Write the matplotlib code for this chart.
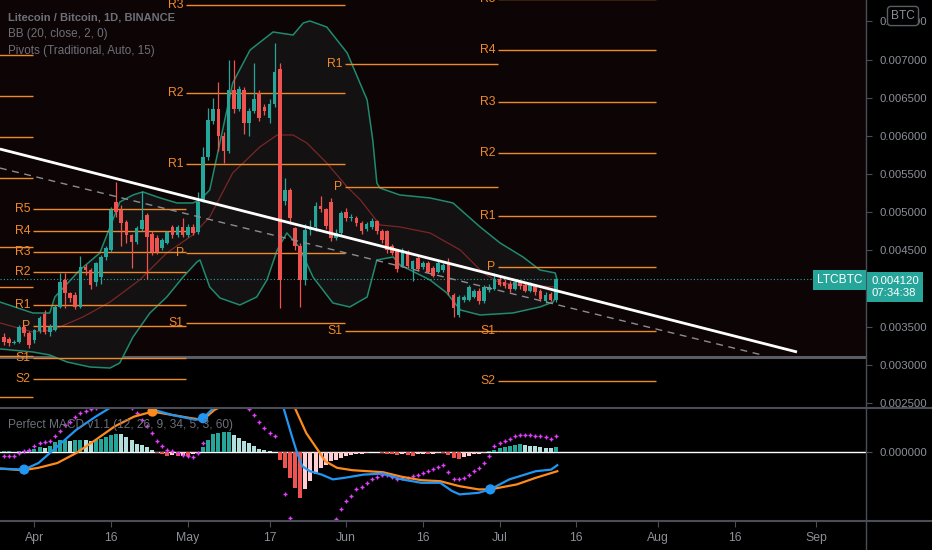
import numpy as np
import matplotlib
matplotlib.use('Agg')
import matplotlib.pyplot as plt
from matplotlib.lines import Line2D

# prices are in 1e-6 BTC, days counted from 1 Apr
days = list(range(-6, 103))

opens = [3365, 3340, 3290, 3300, 3490, 3420, 3320, 3440, 3660, 3430, 3460, 3760, 4110, 3940, 3910, 3760,
         4280, 4240, 4080, 4150, 4410, 4500, 5130, 5030, 4870, 4700, 4610, 4780, 4960, 4720, 4660, 4530,
         4600, 4800, 4700, 4800, 4700, 4810, 4740, 5160, 5720, 6200, 6350, 6000, 5800, 6600, 6350, 6600,
         6170, 6330, 6560, 6380, 6240, 6420, 6880, 5150, 5290, 4790, 4560, 4110, 4770, 4800, 5080, 5040,
         5140, 4660, 4730, 5000, 4920, 4930, 4860, 4780, 4800, 4880, 4760, 4760, 4560, 4490, 4300, 4480,
         4260, 4400, 4280, 4340, 4270, 4220, 4240, 4350, 3920, 3650, 3850, 3850, 3890, 3970, 3830, 3980,
         4000, 4120, 4090, 4060, 4000, 4080, 4050, 3970, 4030, 3970, 3840, 3930, 3850]
highs = [3415, 3370, 3330, 3520, 3520, 3440, 3470, 3640, 3720, 3530, 3790, 4200, 4200, 3960, 3950, 4420,
         4320, 4270, 4350, 4440, 4560, 5070, 5390, 5100, 4900, 4720, 4820, 5280, 4990, 4750, 4700, 4660,
         4760, 4830, 4830, 4920, 4850, 4840, 5260, 5850, 6360, 6500, 6700, 6050, 6990, 6990, 6650, 6640,
         6360, 6950, 6600, 6420, 6480, 7220, 6950, 5450, 5320, 4800, 4600, 4850, 4900, 5140, 5210, 5060,
         5180, 4780, 5010, 5060, 4970, 4950, 4880, 4870, 4920, 4900, 4780, 4770, 4580, 4510, 4530, 4500,
         4380, 4420, 4360, 4360, 4290, 4360, 4330, 4400, 3940, 3920, 3920, 4040, 4000, 4010, 4050, 4060,
         4200, 4170, 4120, 4100, 4110, 4100, 4080, 4080, 4060, 4000, 3950, 3960, 4140]
lows = [3260, 3250, 3270, 3280, 3380, 3220, 3290, 3420, 3410, 3380, 3440, 3740, 3750, 3820, 3730, 3740,
        4180, 3990, 4030, 4060, 4380, 4480, 4940, 4560, 4600, 4270, 4580, 4760, 4130, 4440, 4450, 4500,
        4580, 4660, 4680, 4680, 4680, 4700, 4720, 5130, 5690, 6150, 5800, 5640, 5780, 6300, 6320, 6030,
        6000, 6300, 6200, 6280, 6170, 6380, 3750, 5100, 4850, 4500, 3760, 4050, 4700, 4760, 5000, 4780,
        4620, 4640, 4700, 4880, 4880, 4820, 4720, 4760, 4780, 4720, 4600, 4460, 4440, 4220, 4280, 4270,
        4100, 4230, 4260, 4200, 4150, 4200, 4220, 3920, 3630, 3630, 3820, 3830, 3870, 3800, 3810, 3960,
        3980, 4030, 4010, 3960, 3980, 4000, 3950, 3950, 3920, 3830, 3810, 3830, 3820]
closes = [3300, 3285, 3300, 3495, 3420, 3260, 3450, 3620, 3430, 3500, 3760, 4090, 3940, 3880, 3760, 4280,
          4240, 4050, 4330, 4410, 4530, 5030, 5000, 4860, 4700, 4610, 4790, 4900, 4670, 4480, 4480, 4630,
          4740, 4700, 4800, 4700, 4810, 4730, 5130, 5720, 6210, 6350, 6000, 5800, 6600, 6350, 6620, 6170,
          6330, 6490, 6240, 6320, 6420, 6840, 4110, 5290, 4920, 4560, 4110, 4770, 4800, 5080, 5040, 4820,
          4660, 4730, 4990, 4920, 4930, 4860, 4760, 4840, 4880, 4750, 4630, 4500, 4470, 4260, 4500, 4300,
          4360, 4250, 4340, 4220, 4170, 4340, 4310, 3960, 3750, 3890, 3890, 4020, 3970, 3830, 4020, 4020,
          4120, 4050, 4030, 3990, 4080, 4030, 3970, 4040, 3950, 3860, 3920, 3850, 4120]

# Bollinger bands (day, price)
bb_upper_d = [-6.75, -0.3, 3.0, 4.0, 8.9, 12.8, 14.8, 16.7, 19.3, 21.2, 24.6, 27.9, 31.0, 32.4, 34.3, 38.8,
              42.2, 46.7, 50.6, 52.6, 53.9, 57.2, 61.2, 65.1, 66.2, 67.0, 67.6, 71.5, 77.4, 81.9, 87.2, 91.1,
              95.6, 98.9, 101.9, 102.3]
bb_upper_p = [3823, 3679, 3679, 3889, 4243, 4466, 4807, 5134, 5226, 5266, 5187, 5121, 5121, 5160, 5291, 6693,
              7126, 7362, 7322, 7480, 7506, 7427, 7087, 6471, 5946, 5383, 5317, 5226, 5187, 5121, 4807, 4597,
              4413, 4243, 4204, 4100]
bb_lower_d = [-6.75, -0.3, 3.0, 6.4, 10.9, 14.8, 16.7, 19.3, 22.6, 25.9, 29.1, 31.8, 32.4, 34.3, 36.3, 40.2,
              43.5, 45.5, 47.5, 49.4, 51.8, 54.5, 58.4, 61.7, 65.1, 67.0, 70.2, 71.5, 77.4, 80.7, 83.3, 87.2,
              93.6, 98.9, 101.5, 102.3]
bb_lower_p = [3208, 3168, 3129, 3037, 2971, 2958, 3024, 3365, 3679, 3889, 4151, 4348, 4374, 4020, 3876, 3784,
              3889, 4112, 4505, 4728, 4544, 4151, 3810, 3758, 3889, 4374, 4413, 4309, 4112, 3941, 3719, 3653,
              3679, 3758, 3823, 3941]
bb_basis_d = [-6.75, -0.3, 3.6, 9.5, 14.8, 20.6, 25.9, 31.0, 34.3, 38.8, 44.1, 47.5, 50.6, 53.3, 57.2, 61.2,
              63.8, 67.6, 71.5, 77.4, 83.3, 87.8, 91.1, 95.0, 102.3]
bb_basis_p = [3549, 3430, 3457, 3627, 3823, 4112, 4466, 4702, 4938, 5514, 5855, 6012, 6012, 5907, 5645, 5330,
              5160, 4833, 4807, 4728, 4505, 4204, 4073, 4046, 4020]

# monthly traditional pivots (start day, end day, levels)
pivots = [
    (-40, 0, [('R5', 7060), ('R4', 6523), ('R3', 5986), ('R2', 5448), ('R1', 4544), ('P', 4020),
              ('S1', 3115), ('S2', 2578)]),
    (0, 30, [('R5', 5040), ('R4', 4754), ('R3', 4478), ('R2', 4216), ('R1', 3784), ('P', 3509),
             ('S1', 3090), ('S2', 2814)]),
    (30, 61, [('R3', 7716), ('R2', 6562), ('R1', 5632), ('P', 4465), ('S1', 3548)]),
    (61, 91, [('R1', 6942), ('P', 5330), ('S1', 3443)]),
    (91, 122, [('R5', 7790), ('R4', 7126), ('R3', 6444), ('R2', 5775), ('R1', 4950), ('P', 4282),
               ('S1', 3443), ('S2', 2788)]),
]

trend_white = ([-6.75, 149.2], [5828, 3168])
trend_dashed = ([-6.75, 142.4], [5579, 3128])
last_price = 4120
box_floor = 3102

# Perfect MACD pane (same 1e-6 units)
hist = [3, 3, 2, 3, 4, 8, 15, 25, 20, 30, 50, 60, 60, 55, 58, 60, 58, 55, 58, 65, 75, 85, 92, 88, 75, 58, 42,
        35, 25, 12, -5, -12, -18, -15, -20, -18, -22, -12, -3, 25, 60, 90, 95, 99, 99, 85, 70, 55, 45, 30, 15,
        8, 3, -2, -40, -80, -130, -180, -232, -185, -145, -112, -80, -63, -47, -38, -30, -22, -14, -10, -8, -5,
        -2, 1, -3, -8, -12, -15, -12, -15, -18, -12, -10, -10, -8, -5, -5, -15, -30, -33, -25, -18, -12, -8,
        -3, 5, 10, 18, 25, 30, 33, 38, 35, 32, 28, 25, 22, 20, 25]
N = None
fast_dots = [-18, -22, -22, -5, 3, 12, 28, 45, 48, 53, 78, 103, 136, 152, 177, 197, 207, 214, 219, N, N, N,
             N, N, N, 219, 194, 161, 128, 94, 53, 28, 12, 3, -5, -13, -22, -25, -5, 45, N, N, N, N, N, N, N,
             N, 214, 185, 152, 119, 94, 81, N, -212, -328, N, N, N, N, N, N, N, N, -336, -286, -245, -220,
             -187, -174, -157, -137, -124, -113, -113, -124, -134, -129, -129, -121, -113, -104, -96, -84,
             -75, -63, -101, -134, -137, -129, -113, -96, -79, -55, -22, 28, 45, 53, 65, 78, 86, 86, 86, 81,
             78, 75, 65, 81]
macd_d = [-6.7, -2.0, 0.8, 4.5, 8.2, 12.0, 15.0, N, 22.9, 27.0, 31.5, 33.0, 35.2, N, 48.7, 50.2, 51.3,
          52.4, 53.9, 56.2, 58.4, 60.7, 64.4, 68.2, 71.9, 75.7, 79.4, 81.7, 83.2, 86.9, 89.2, 92.9, 98.1,
          101.1, 102.3]
macd_v = [-83, -88, -55, 28, 111, 177, 224, N, 214, 185, 161, 169, 224, N, 224, 94, 3, -71, -96, -113,
          -137, -129, -113, -108, -137, -154, -154, -195, -212, -204, -187, -137, -96, -88, -66]
signal_d = [-6.7, -2.2, 0.8, 4.5, 8.2, 12.0, 15.7, 19.5, 23.1, 27.0, 30.7, 33.0, 35.2, 36.3, N, 50.9, 53.2,
            55.4, 56.9, 59.2, 62.2, 68.2, 71.9, 75.7, 79.4, 83.2, 86.9, 89.2, 94.4, 98.1, 102.3]
signal_v = [-83, -91, -79, -55, -5, 61, 128, 177, 202, 185, 169, 161, 210, 224, N, 224, 94, 12, -46, -79,
            -91, -101, -124, -141, -146, -171, -187, -187, -162, -129, -96]
cross_d = [-2.0, 23.1, 33.0, 89.2]
cross_v = [-88, 202, 169, -187]
cross_c = ['#2196f3', '#ff8a1c', '#2196f3', '#2196f3']

tick_days = [0, 15, 30, 46, 61, 76, 91, 106, 122, 137, 153]
tick_names = ['Apr', '16', 'May', '17', 'Jun', '16', 'Jul', '16', 'Aug', '16', 'Sep']
price_ticks = [2500, 3000, 3500, 4500, 5000, 5500, 6000, 6500, 7000, 7500]

###############################################################################
plt.rcParams['font.family'] = ['Liberation Sans', 'DejaVu Sans']

W, H = 932, 550
GREEN, RED = '#26a69a', '#ef5350'
ORANGE = '#ef8a2c'
GRAY_TXT = '#8c8f97'
LINE = '#4a4d55'
FS = 8.2

fig = plt.figure(figsize=(W / 100, H / 100), dpi=100, facecolor='black')
ax = fig.add_axes([0, 142 / H, 866 / W, 408 / H])
axm = fig.add_axes([0, 29 / H, 866 / W, 113 / H])
xmin, xmax = -6.73, 162.7

for a in (ax, axm):
    a.set_facecolor('black')
    a.set_xlim(xmin, xmax)
    for s in a.spines.values():
        s.set_visible(False)

ax.set_ylim(2434, 7781)
ax.axhspan(box_floor, 7781, color='#0d0405', zorder=0)
ax.axhline(box_floor, color='#5a5d65', lw=2.2, zorder=1)

# bollinger band
ax.fill(np.r_[bb_upper_d, bb_lower_d[::-1]], np.r_[bb_upper_p, bb_lower_p[::-1]],
        color='#141112', lw=0, zorder=1)
ax.plot(bb_upper_d, bb_upper_p, color='#1f8a6f', lw=1.1, zorder=2)
ax.plot(bb_lower_d, bb_lower_p, color='#1f8a6f', lw=1.1, zorder=2)
ax.plot(bb_basis_d, bb_basis_p, color='#7a2626', lw=0.9, zorder=2)

# pivots
for start, end, levels in pivots:
    for name, val in levels:
        ax.hlines(val, start - 0.3, end - 0.3, color=ORANGE, lw=1, zorder=2)
        if start - 0.8 > xmin:
            ax.text(start - 0.8, val, name, color=ORANGE, fontsize=FS + 0.6, ha='right', va='center',
                    clip_on=True, zorder=3)

# candles
o, h, l, c = map(np.array, (opens, highs, lows, closes))
cols = np.where(c >= o, GREEN, RED)
ax.vlines(days, l, h, colors=cols, lw=0.9, zorder=4)
ax.bar(days, np.maximum(np.abs(c - o), 12), bottom=np.minimum(o, c), width=0.72, color=cols, lw=0, zorder=5)

# trend lines
ax.plot(*trend_dashed, color='#8a8c92', lw=1, dashes=(5, 4), zorder=6)
ax.plot(*trend_white, color='white', lw=2, zorder=6, solid_capstyle='butt')
ax.plot([xmin, 153.3], [last_price, last_price], color=GREEN, lw=0.8, ls=(0, (1, 2)), zorder=3)

ax.yaxis.tick_right()
ax.set_yticks(price_ticks)
ax.set_yticklabels(['%.6f' % (v / 1e6) for v in price_ticks])
ax.tick_params(axis='y', colors=LINE, labelcolor=GRAY_TXT, labelsize=FS, length=4, pad=6)
ax.set_xticks([])

# macd pane
axm.set_ylim(-345, 220)
axm.axhline(0, color='white', lw=1, zorder=2)
hv = np.array(hist, dtype=float)
prev = np.r_[hv[0], hv[:-1]]
hcol = np.where(hv >= 0, np.where(hv >= prev, '#26a69a', '#b2dfdb'), np.where(hv <= prev, '#ef5350', '#ffcdd2'))
axm.bar(days, hv, width=0.78, color=hcol, lw=0, zorder=3)
fd = np.array(fast_dots, dtype=float)
axm.plot(days, fd, '+', color='#e040fb', ms=3.5, mew=1, zorder=4)
axm.plot(np.array(signal_d, dtype=float), np.array(signal_v, dtype=float), color='#ff8a1c', lw=1.6, zorder=5)
axm.plot(np.array(macd_d, dtype=float), np.array(macd_v, dtype=float), color='#2196f3', lw=1.6, zorder=6)
axm.scatter(cross_d, cross_v, s=40, c=cross_c, zorder=7)
axm.yaxis.tick_right()
axm.set_yticks([0])
axm.set_yticklabels(['0.000000'])
axm.tick_params(axis='y', colors=LINE, labelcolor=GRAY_TXT, labelsize=FS, length=4, pad=6)
axm.set_xticks(tick_days)
axm.set_xticklabels(tick_names)
axm.tick_params(axis='x', colors=LINE, labelcolor=GRAY_TXT, labelsize=FS + 0.6, length=4, pad=4)

# borders and separators
fig.add_artist(Line2D([866 / W, 866 / W], [0, 1], color=LINE, lw=1))
fig.add_artist(Line2D([0, 1], [1 - 408 / H, 1 - 408 / H], color=LINE, lw=1.5))
fig.add_artist(Line2D([0, 1], [1 - 521 / H, 1 - 521 / H], color=LINE, lw=1.5))

# legends / labels
hdr = '#6d7079'
fig.text(8 / W, 1 - 17 / H, 'Litecoin / Bitcoin, 1D, BINANCE', color=hdr, fontsize=8.0,
         fontweight='bold', va='center')
fig.text(8 / W, 1 - 34 / H, 'BB (20, close, 2, 0)', color=hdr, fontsize=8.4, va='center')
fig.text(8 / W, 1 - 51 / H, 'Pivots (Traditional, Auto, 15)', color=hdr, fontsize=8.4, va='center')
fig.text(8 / W, 1 - 425 / H, 'Perfect MACD v1.1 (12, 26, 9, 34, 5, 3, 60)', color=hdr,
         fontsize=8.6, va='center', zorder=1)

fig.text(903 / W, 1 - 16 / H, 'BTC', color=GRAY_TXT, fontsize=FS + 0.4, ha='center', va='center',
         bbox=dict(boxstyle='round,pad=0.3', fc='black', ec='#5a5d65', lw=1))
fig.text(862 / W, 1 - 280 / H, 'LTCBTC', color='white', fontsize=FS + 0.4, ha='right', va='center',
         bbox=dict(boxstyle='square,pad=0.3', fc=GREEN, ec='none'))
fig.text(871 / W, 1 - 287 / H, '%.6f\n07:34:38' % (last_price / 1e6), color='white', fontsize=FS,
         ha='left', va='center', linespacing=1.15,
         bbox=dict(boxstyle='square,pad=0.35', fc=GREEN, ec='none'))

fig.savefig('out.png', dpi=100, facecolor='black')
